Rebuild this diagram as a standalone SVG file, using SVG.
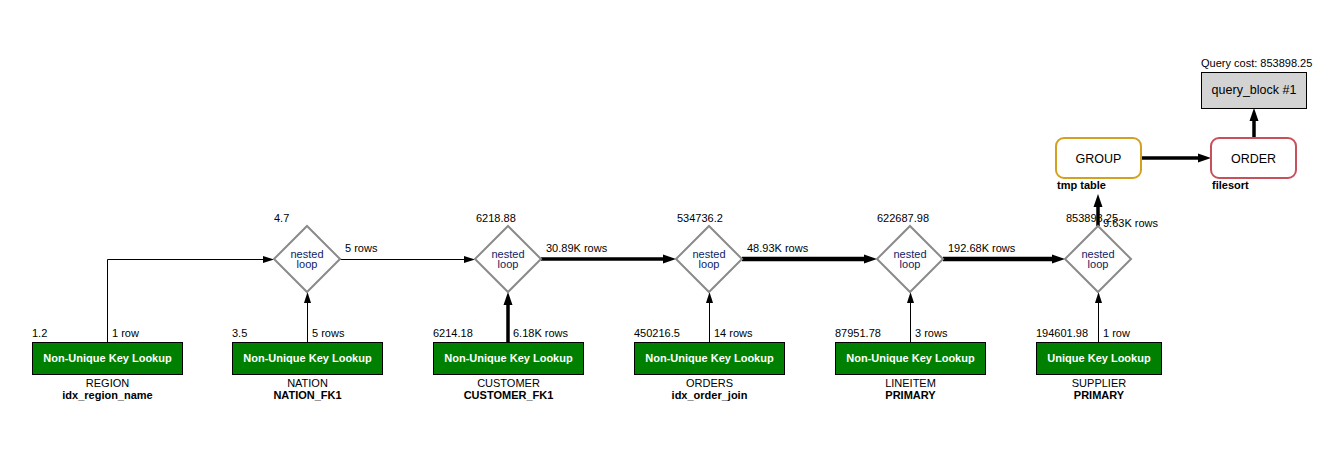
<svg xmlns="http://www.w3.org/2000/svg" width="1338" height="472" viewBox="0 0 1338 472">
<style>
text{font-family:"Liberation Sans",Arial,sans-serif;font-size:11px;fill:#000}
.b{font-weight:bold}
.m{text-anchor:middle}
.op{fill:#008000;stroke:#000;stroke-width:1}
.opt{fill:#fff;font-weight:bold;text-anchor:middle}
.nl{fill:#fff;stroke:#8a8a8a;stroke-width:2}
.nlt{fill:#0e2266;text-anchor:middle}
.e{fill:none;stroke:#000}
.t1{stroke-width:1}
.t2{stroke-width:3.5}
.t3{stroke-width:4.5}
.big{font-size:12.5px;text-anchor:middle}
</style>
<defs>
<marker id="ah" viewBox="0 -5 12 10" refX="0" refY="0" markerWidth="12" markerHeight="10" orient="auto" markerUnits="userSpaceOnUse"><path d="M0,-3.5 L11,0 L0,3.5 z" fill="#000"/></marker>
<marker id="ahT" viewBox="0 -6 14 12" refX="0" refY="0" markerWidth="14" markerHeight="12" orient="auto" markerUnits="userSpaceOnUse"><path d="M0,-4.5 L13,0 L0,4.5 z" fill="#000"/></marker>
</defs>
<rect width="1338" height="472" fill="#fff"/>

<g id="connectors">
<path class="e t1" d="M107.5,342 V259.5 H263" marker-end="url(#ah)"/>
<path class="e t1" d="M307.5,342 V303" marker-end="url(#ah)"/>
<path class="e t1" d="M340,259.5 H464" marker-end="url(#ah)"/>
<path class="e t2" d="M508,342 V305" marker-end="url(#ahT)"/>
<path class="e t2" d="M541,259 H663" marker-end="url(#ahT)"/>
<path class="e t1" d="M709.5,342 V303" marker-end="url(#ah)"/>
<path class="e t3" d="M742,259 H864" marker-end="url(#ahT)"/>
<path class="e t1" d="M910.5,342 V303" marker-end="url(#ah)"/>
<path class="e t3" d="M943,259 H1052" marker-end="url(#ahT)"/>
<path class="e t1" d="M1098.5,342 V303" marker-end="url(#ah)"/>
<path class="e t2" d="M1098,226 V207" marker-end="url(#ahT)"/>
<path class="e t2" d="M1141,158 H1198" marker-end="url(#ahT)"/>
<path class="e t2" d="M1254,138 V121" marker-end="url(#ahT)"/>
<text x="345" y="252">5 rows</text>
<text x="546" y="252">30.89K rows</text>
<text x="747" y="252">48.93K rows</text>
<text x="948" y="252">192.68K rows</text>
<text x="112" y="337">1 row</text>
<text x="312" y="337">5 rows</text>
<text x="513" y="337">6.18K rows</text>
<text x="714" y="337">14 rows</text>
<text x="915" y="337">3 rows</text>
<text x="1103" y="337">1 row</text>
<text x="1103" y="227">9.63K rows</text>
</g>

<g id="qb">
<text x="1201" y="67">Query cost: 853898.25</text>
<rect x="1201.5" y="72.5" width="105" height="36" fill="#d3d3d3" stroke="#000" stroke-width="1"/>
<text class="big" x="1254" y="94">query_block #1</text>
</g>

<g id="group">
<rect x="1056" y="138" width="85" height="40" rx="8" fill="#fff" stroke="#d4a020" stroke-width="2"/>
<text class="big" x="1098.5" y="163">GROUP</text>
<text class="b" x="1057" y="189">tmp table</text>
</g>

<g id="order">
<rect x="1211" y="138" width="85" height="40" rx="8" fill="#fff" stroke="#c8505a" stroke-width="2"/>
<text class="big" x="1253.5" y="163">ORDER</text>
<text class="b" x="1212" y="189">filesort</text>
</g>

<g id="nl1">
<polygon class="nl" points="307,226 340,259 307,292 274,259"/>
<text class="nlt" x="307" y="258">nested</text>
<text class="nlt" x="307" y="268">loop</text>
<text x="274" y="222">4.7</text>
</g>
<g id="nl2">
<polygon class="nl" points="508,226 541,259 508,292 475,259"/>
<text class="nlt" x="508" y="258">nested</text>
<text class="nlt" x="508" y="268">loop</text>
<text x="476" y="222">6218.88</text>
</g>
<g id="nl3">
<polygon class="nl" points="709,226 742,259 709,292 676,259"/>
<text class="nlt" x="709" y="258">nested</text>
<text class="nlt" x="709" y="268">loop</text>
<text x="677" y="222">534736.2</text>
</g>
<g id="nl4">
<polygon class="nl" points="910,226 943,259 910,292 877,259"/>
<text class="nlt" x="910" y="258">nested</text>
<text class="nlt" x="910" y="268">loop</text>
<text x="877" y="222">622687.98</text>
</g>
<g id="nl5">
<polygon class="nl" points="1098,226 1131,259 1098,292 1065,259"/>
<text class="nlt" x="1098" y="258">nested</text>
<text class="nlt" x="1098" y="268">loop</text>
<text x="1066" y="222">853898.25</text>
</g>

<g id="region">
<text x="32" y="337">1.2</text>
<rect class="op" x="32.5" y="342.5" width="150" height="32"/>
<text class="opt" x="107.5" y="362">Non-Unique Key Lookup</text>
<text class="m" x="107.5" y="387">REGION</text>
<text class="m b" x="107.5" y="399">idx_region_name</text>
</g>
<g id="nation">
<text x="232" y="337">3.5</text>
<rect class="op" x="232.5" y="342.5" width="150" height="32"/>
<text class="opt" x="307.5" y="362">Non-Unique Key Lookup</text>
<text class="m" x="307.5" y="387">NATION</text>
<text class="m b" x="307.5" y="399">NATION_FK1</text>
</g>
<g id="customer">
<text x="433" y="337">6214.18</text>
<rect class="op" x="433.5" y="342.5" width="150" height="32"/>
<text class="opt" x="508.5" y="362">Non-Unique Key Lookup</text>
<text class="m" x="508.5" y="387">CUSTOMER</text>
<text class="m b" x="508.5" y="399">CUSTOMER_FK1</text>
</g>
<g id="orders">
<text x="634" y="337">450216.5</text>
<rect class="op" x="634.5" y="342.5" width="150" height="32"/>
<text class="opt" x="709.5" y="362">Non-Unique Key Lookup</text>
<text class="m" x="709.5" y="387">ORDERS</text>
<text class="m b" x="709.5" y="399">idx_order_join</text>
</g>
<g id="lineitem">
<text x="835" y="337">87951.78</text>
<rect class="op" x="835.5" y="342.5" width="150" height="32"/>
<text class="opt" x="910.5" y="362">Non-Unique Key Lookup</text>
<text class="m" x="910.5" y="387">LINEITEM</text>
<text class="m b" x="910.5" y="399">PRIMARY</text>
</g>
<g id="supplier">
<text x="1036" y="337">194601.98</text>
<rect class="op" x="1036.5" y="342.5" width="125" height="32"/>
<text class="opt" x="1099" y="362">Unique Key Lookup</text>
<text class="m" x="1099" y="387">SUPPLIER</text>
<text class="m b" x="1099" y="399">PRIMARY</text>
</g>
</svg>
